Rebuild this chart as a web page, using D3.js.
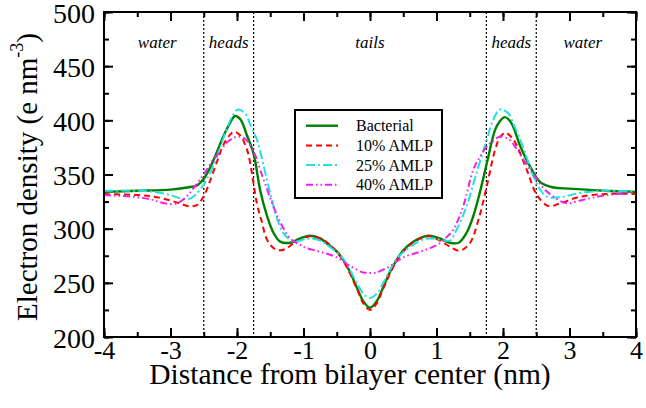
<!DOCTYPE html>
<html><head><meta charset="utf-8">
<script src="https://cdn.jsdelivr.net/npm/d3@7"></script>
<style>
html,body{margin:0;padding:0;background:#fff;}
svg text{font-family:"Liberation Serif","Times New Roman",serif;fill:#000;}
</style></head>
<body><svg id="chart" width="646" height="408"></svg>
<script>
const seriesNames = ["Bacterial", "10% AMLP", "25% AMLP", "40% AMLP"];
const seriesColors = ["#008000", "#ff0000", "#22e0e0", "#f020f0"];
const seriesDash = ["none", "6,4", "9,3,2,3", "7,3,1.5,3,1.5,3"];

const bacterialX = [-4, -3.5, -3, -2.75, -2.6, -2.5, -2.4, -2.3, -2.2, -2.1, -2.03, -1.95, -1.85, -1.75, -1.65, -1.55, -1.45, -1.35, -1.2, -1.05, -0.9, -0.75, -0.65, -0.5, -0.4, -0.3, -0.2, -0.1, 0, 0.1, 0.2, 0.3, 0.4, 0.5, 0.65, 0.8, 0.9, 1.05, 1.2, 1.33, 1.45, 1.55, 1.65, 1.755, 1.88, 1.95, 2.03, 2.13, 2.26, 2.41, 2.56, 2.76, 3, 3.5, 4];
const bacterialY = [334, 335, 336, 338, 340, 346, 357, 371, 386, 398, 404, 401, 386, 369, 335, 312, 296, 288, 287, 291, 293.5, 291, 286.5, 279, 271, 260, 246, 233, 227, 233, 246, 260, 271, 280, 288, 292.5, 293.5, 291, 287, 287, 296, 311, 333, 360, 391, 399, 403, 397, 376, 357, 343, 338, 337, 335, 334];

const amlp10X = [-4, -3.5, -3.25, -3, -2.85, -2.7, -2.6, -2.5, -2.4, -2.3, -2.2, -2.1, -2.04, -1.95, -1.85, -1.8, -1.7, -1.63, -1.55, -1.45, -1.35, -1.25, -1.15, -1.0, -0.9, -0.75, -0.6, -0.4, -0.2, -0.1, 0, 0.1, 0.2, 0.4, 0.6, 0.8, 0.9, 1.05, 1.2, 1.35, 1.5, 1.63, 1.755, 1.88, 1.96, 2.04, 2.11, 2.18, 2.36, 2.51, 2.68, 2.86, 3.16, 3.56, 4];
const amlp10Y = [332, 331, 329.5, 326, 323, 320.5, 322, 330, 345, 362, 378, 387, 389.5, 386, 373, 360, 323, 307, 290, 282, 280, 282, 286.5, 291, 293, 291, 285, 270, 245, 231, 225, 231, 245, 270, 285, 292, 293, 289, 283.4, 279.7, 286.5, 308, 339, 372.6, 385, 388.6, 385.5, 380, 354, 331, 321, 323.4, 329.5, 332, 332];

const amlp25X = [-4, -3.5, -3.25, -3, -2.85, -2.7, -2.56, -2.46, -2.36, -2.26, -2.16, -2.06, -1.98, -1.88, -1.8, -1.7, -1.6, -1.5, -1.4, -1.3, -1.15, -1.0, -0.9, -0.75, -0.6, -0.4, -0.2, -0.1, 0, 0.1, 0.2, 0.4, 0.6, 0.8, 0.9, 1.05, 1.2, 1.3, 1.45, 1.6, 1.755, 1.85, 1.955, 2.08, 2.16, 2.26, 2.36, 2.46, 2.56, 2.66, 2.86, 3.16, 3.56, 4];
const amlp25Y = [335, 335, 334, 331, 328, 328, 335.7, 345, 357, 374, 391, 405, 410, 406.5, 396, 382, 358, 332.6, 310, 295.7, 288, 290, 291, 289, 283, 272, 250, 240, 236, 240, 250, 272, 283, 290, 291, 290, 289, 298.8, 320.3, 351, 382, 400, 410, 406.5, 396, 382, 365, 348, 336, 329.5, 329, 333, 335, 334];

const amlp40X = [-4, -3.5, -3.26, -3.1, -2.9, -2.76, -2.66, -2.56, -2.46, -2.36, -2.26, -2.16, -2.06, -1.98, -1.88, -1.8, -1.72, -1.65, -1.55, -1.45, -1.35, -1.2, -1.05, -0.95, -0.75, -0.5, -0.3, -0.1, 0, 0.1, 0.3, 0.5, 0.75, 0.9, 1.05, 1.15, 1.25, 1.4, 1.55, 1.65, 1.755, 1.85, 1.955, 2.1, 2.2, 2.31, 2.48, 2.6, 2.76, 2.96, 3.16, 3.56, 4];
const amlp40Y = [331, 329, 326.5, 323.5, 323.5, 329.5, 337, 345, 354, 363.4, 371, 379, 383.5, 385, 383, 377, 367, 354, 337, 320, 306, 291, 285, 282, 278.7, 273.5, 265.5, 259.5, 259, 259.5, 265.5, 273.5, 278.7, 282, 286.5, 292, 298.8, 320.3, 354, 366, 375.7, 381, 385, 382, 374, 363.4, 348, 338, 329.5, 323.4, 326, 331, 333];

const xTicks = [-4, -3, -2, -1, 0, 1, 2, 3, 4];
const yTicks = [200, 250, 300, 350, 400, 450, 500];
const boundaries = [-2.5, -1.75, 1.75, 2.5];
const regionNames = ["water", "heads", "tails", "heads", "water"];
const regionCenters = [-3.2, -2.125, 0, 2.125, 3.2];

const seriesX = [bacterialX, amlp10X, amlp25X, amlp40X];
const seriesY = [bacterialY, amlp10Y, amlp25Y, amlp40Y];

const L = 104, R = 636, T = 12, B = 337;
const svg = d3.select("#chart");
const x = d3.scaleLinear().domain([-4, 4]).range([L, R]);
const y = d3.scaleLinear().domain([200, 500]).range([B, T]);

// dotted boundaries
svg.selectAll("line.bnd").data(boundaries).enter().append("line")
  .attr("x1", d => x(d)).attr("x2", d => x(d)).attr("y1", T).attr("y2", B)
  .attr("stroke", "#000").attr("stroke-width", 1.2).attr("stroke-dasharray", "2,2");

// region labels
svg.selectAll("text.reg").data(regionNames).enter().append("text")
  .attr("x", (d, i) => x(regionCenters[i])).attr("y", 48)
  .attr("text-anchor", "middle").attr("font-style", "italic").attr("font-size", 17)
  .text(d => d);

// curves
const line = d3.line().x(d => x(d[0])).y(d => y(d[1])).curve(d3.curveCatmullRom.alpha(0.5));
const g = svg.append("g");
seriesNames.forEach((n, i) => {
  const pts = seriesX[i].map((v, j) => [v, seriesY[i][j]]);
  g.append("path").datum(pts).attr("d", line).attr("fill", "none")
    .attr("stroke", seriesColors[i]).attr("stroke-width", i === 0 ? 2.4 : 2)
    .attr("stroke-dasharray", seriesDash[i]);
});

// axes with inward ticks on all sides
function ticks(axisGen, tr) {
  return svg.append("g").attr("transform", tr).call(axisGen);
}
const xMinor = d3.range(-4, 4.01, 0.5);
const yMinor = d3.range(200, 501, 25);
const axB = ticks(d3.axisBottom(x).tickValues(xTicks).tickSize(-9).tickFormat(d => d), `translate(0,${B})`);
ticks(d3.axisBottom(x).tickValues(xMinor).tickSize(-5).tickFormat(""), `translate(0,${B})`);
ticks(d3.axisTop(x).tickValues(xTicks).tickSize(-9).tickFormat(""), `translate(0,${T})`);
ticks(d3.axisTop(x).tickValues(xMinor).tickSize(-5).tickFormat(""), `translate(0,${T})`);
const axL = ticks(d3.axisLeft(y).tickValues(yTicks).tickSize(-9).tickFormat(d => d), `translate(${L},0)`);
ticks(d3.axisLeft(y).tickValues(yMinor).tickSize(-5).tickFormat(""), `translate(${L},0)`);
ticks(d3.axisRight(y).tickValues(yTicks).tickSize(-9).tickFormat(""), `translate(${R},0)`);
ticks(d3.axisRight(y).tickValues(yMinor).tickSize(-5).tickFormat(""), `translate(${R},0)`);
svg.selectAll(".domain").remove();
svg.selectAll(".tick line").attr("stroke", "#000").attr("stroke-width", 2);
axB.selectAll(".tick text").attr("font-size", 26).attr("font-family", "Liberation Serif")
  .attr("y", 0).attr("dy", null).attr("transform", "translate(0,21.5)");
axL.selectAll(".tick text").attr("font-size", 28).attr("font-family", "Liberation Serif")
  .attr("x", -9).attr("dy", null).attr("transform", "translate(0,10)");

// frame
svg.append("rect").attr("x", L).attr("y", T).attr("width", R - L).attr("height", B - T)
  .attr("fill", "none").attr("stroke", "#000").attr("stroke-width", 2);

// axis titles
svg.append("text").attr("x", 350).attr("y", 384).attr("text-anchor", "middle")
  .attr("font-size", 29.5).text("Distance from bilayer center (nm)");
const yt = svg.append("text").attr("transform", "translate(37,177) rotate(-90)")
  .attr("text-anchor", "middle").attr("font-size", 29);
yt.append("tspan").text("Electron density (e nm");
yt.append("tspan").attr("font-size", 18).attr("dy", -14).text("-3");
yt.append("tspan").attr("dy", 14).text(")");

// legend
const lg = svg.append("g");
lg.append("rect").attr("x", 295).attr("y", 110).attr("width", 147).attr("height", 88)
  .attr("fill", "#fff").attr("stroke", "#000").attr("stroke-width", 2);
seriesNames.forEach((n, i) => {
  const ry = 125.7 + i * 19.7;
  lg.append("line").attr("x1", 306).attr("x2", 338).attr("y1", ry).attr("y2", ry)
    .attr("stroke", seriesColors[i]).attr("stroke-width", i === 0 ? 2.4 : 2)
    .attr("stroke-dasharray", seriesDash[i]);
  lg.append("text").attr("x", 356).attr("y", ry + 5.5).attr("font-size", 16).text(n);
});
</script></body></html>
